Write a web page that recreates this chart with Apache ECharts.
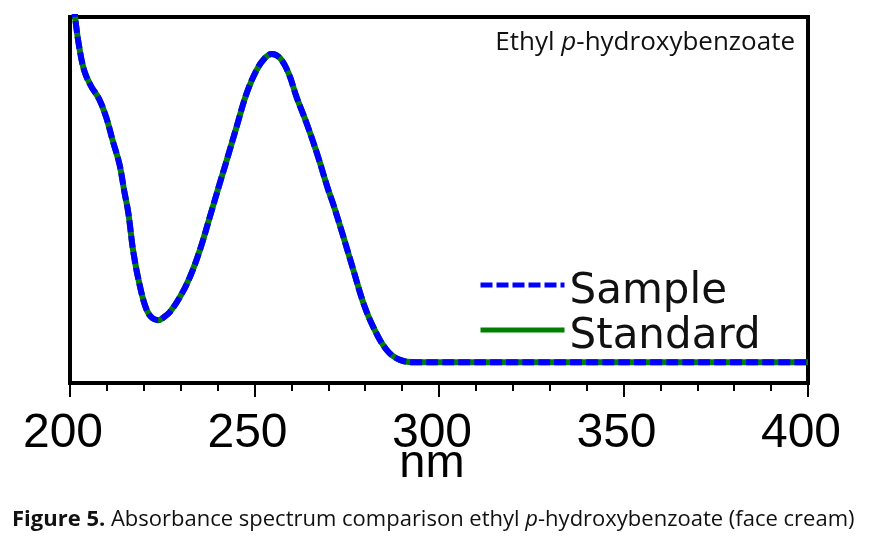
<!DOCTYPE html>
<html>
<head>
<meta charset="utf-8">
<script src="https://cdn.jsdelivr.net/npm/echarts@6/dist/echarts.min.js"></script>
<style>html,body{margin:0;padding:0;background:#fff}#c{width:870px;height:540px}</style>
</head>
<body>
<div id="c"></div>
<script>
// wavelength (nm)
const wavelengths = [201.0,201.6,202.5,203.9,205.7,207.9,209.8,211.6,213.4,214.7,215.8,217.2,219.0,220.8,222.3,223.9,225.5,227.1,229.8,232.5,235.2,237.9,240.6,242.5,245.2,247.9,250.6,252.8,254.7,256.9,259.2,261.4,264.1,266.9,270.0,271.4,274.1,276.8,279.5,282.2,285.8,289.4,294,300,320,340,360,380,400];
// absorbance (arbitrary units)
const sampleAbs = [1.035,0.980,0.913,0.843,0.800,0.762,0.710,0.641,0.574,0.496,0.433,0.317,0.218,0.151,0.128,0.122,0.131,0.146,0.189,0.247,0.325,0.421,0.519,0.586,0.684,0.780,0.847,0.881,0.893,0.881,0.838,0.768,0.693,0.606,0.499,0.456,0.363,0.267,0.172,0.102,0.036,0.007,0.000,0.000,0.000,0.000,0.000,0.000,0.000];
const standardAbs = [1.035,0.980,0.913,0.843,0.800,0.762,0.710,0.641,0.574,0.496,0.433,0.317,0.218,0.151,0.128,0.122,0.131,0.146,0.189,0.247,0.325,0.421,0.519,0.586,0.684,0.780,0.847,0.881,0.893,0.881,0.838,0.768,0.693,0.606,0.499,0.456,0.363,0.267,0.172,0.102,0.036,0.007,0.000,0.000,0.000,0.000,0.000,0.000,0.000];
const seriesNames = ['Sample','Standard'];
const xTicks = [200,250,300,350,400];

const chart = echarts.init(document.getElementById('c'), null, {renderer:'canvas'});
const pair = (xs, ys) => xs.map((x,i)=>[x, ys[i]]);
chart.setOption({
  backgroundColor:'#fff',
  animation:false,
  title:[
    {text:'Ethyl {i|p}-hydroxybenzoate', right:70, top:25,
     textStyle:{fontFamily:'Open Sans', fontSize:26, fontWeight:'normal', color:'#111',
       rich:{i:{fontFamily:'Open Sans', fontSize:26, fontStyle:'italic', color:'#111'}}}},
    {text:'{b|Figure 5.} Absorbance spectrum comparison ethyl {i|p}-hydroxybenzoate (face cream)', left:7, top:504,
     textStyle:{fontFamily:'Open Sans', fontSize:22, fontWeight:'normal', color:'#111',
       rich:{b:{fontFamily:'Open Sans', fontSize:22, fontWeight:'bold', color:'#111'},
             i:{fontFamily:'Open Sans', fontSize:22, fontStyle:'italic', color:'#111'}}}}
  ],
  legend:{
    data:seriesNames, orient:'vertical', left:478, top:264, padding:0,
    itemWidth:84, itemHeight:5, itemGap:-4,
    itemStyle:{opacity:0},
    lineStyle:{width:5},
    formatter: name => '{s| }\n{a|' + name + '}',
    textStyle:{color:'#111',
      rich:{s:{fontSize:2, lineHeight:14},
            a:{fontFamily:'DejaVu Sans', fontSize:42, lineHeight:40, color:'#111'}}}
  },
  grid:{left:70, right:62, top:17, bottom:157, show:true, borderColor:'#000', borderWidth:4, backgroundColor:'#fff'},
  xAxis:{
    type:'value', min:xTicks[0], max:xTicks[xTicks.length-1], interval:50,
    name:'nm', nameLocation:'middle', nameGap:58, nameMoveOverlap:false,
    nameTextStyle:{fontFamily:'Liberation Sans', fontSize:47, color:'#000', padding:[0,14,0,0]},
    axisLine:{show:true, onZero:false, lineStyle:{color:'#000', width:4}},
    axisTick:{show:true, inside:false, length:14, lineStyle:{color:'#000', width:2}},
    minorTick:{show:true, splitNumber:5, length:8, lineStyle:{color:'#000', width:2}},
    axisLabel:{fontFamily:'Liberation Sans', fontSize:48, color:'#000', margin:27, padding:[0,14,0,0]},
    splitLine:{show:false}
  },
  yAxis:{type:'value', min:-0.06, max:1.0, show:false, splitLine:{show:false}},
  series:[
    {name:'Standard', type:'line', data:pair(wavelengths, standardAbs), smooth:0.4, symbol:'none', clip:true,
     lineStyle:{color:'#008000', width:6}, itemStyle:{color:'#008000'}, z:2},
    {name:'Sample', type:'line', data:pair(wavelengths, sampleAbs), smooth:0.4, symbol:'none', clip:true,
     lineStyle:{color:'#0000ff', width:6, type:[12,4]}, itemStyle:{color:'#0000ff'}, z:3}
  ]
});
</script>
</body>
</html>
